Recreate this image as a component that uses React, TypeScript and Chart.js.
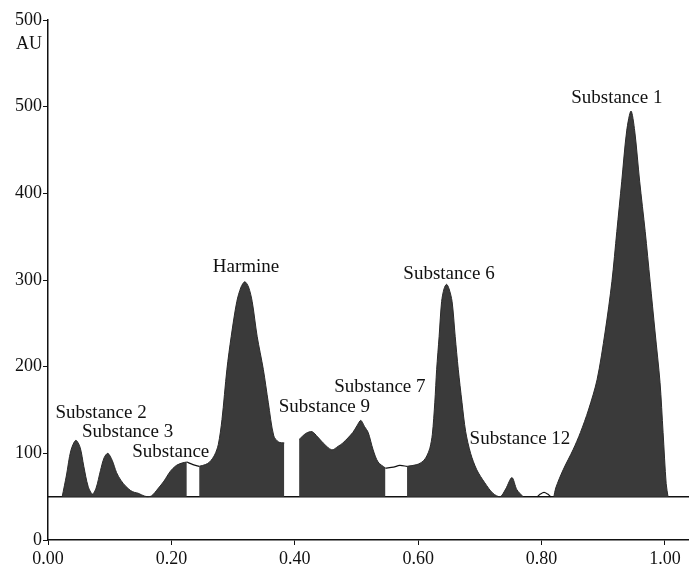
import React, { useEffect, useRef } from "react";
import { Chart, registerables } from "chart.js";

Chart.register(...registerables);

// ---- data (Rf vs AU) ----
const baselineAU = 50;

// peaks 2, 3, 4 (up to white strip)
const seg1: [number, number][] = [
  [0.023, 50], [0.030, 75], [0.037, 103], [0.045, 115], [0.052, 107], [0.058, 85],
  [0.065, 62], [0.072, 53], [0.078, 60], [0.085, 80], [0.091, 95], [0.097, 100],
  [0.104, 92], [0.111, 78], [0.118, 69], [0.126, 62], [0.134, 57], [0.140, 55],
  [0.146, 54], [0.152, 52], [0.160, 50], [0.168, 51], [0.178, 59], [0.188, 68],
  [0.198, 79], [0.208, 86], [0.218, 89], [0.225, 90],
];
// harmine
const seg2: [number, number][] = [
  [0.245, 85], [0.255, 87], [0.262, 90], [0.270, 98], [0.276, 110], [0.282, 139],
  [0.290, 197], [0.297, 235], [0.306, 275], [0.313, 292], [0.319, 298], [0.325, 292],
  [0.331, 275], [0.339, 235], [0.349, 197], [0.357, 159], [0.366, 120], [0.374, 113],
  [0.383, 112],
];
// substances 9, 7
const seg3: [number, number][] = [
  [0.407, 116], [0.418, 123], [0.428, 125], [0.437, 119], [0.446, 112], [0.460, 104],
  [0.470, 108], [0.478, 112], [0.494, 124], [0.501, 132], [0.507, 138], [0.513, 131],
  [0.519, 124], [0.527, 104], [0.535, 90], [0.547, 83],
];
// substance 6, 12
const seg4: [number, number][] = [
  [0.582, 85], [0.598, 87], [0.608, 91], [0.614, 97], [0.619, 106], [0.623, 122],
  [0.627, 159], [0.630, 197], [0.634, 235], [0.638, 275], [0.642, 290], [0.646, 295],
  [0.650, 290], [0.655, 275], [0.660, 235], [0.665, 197], [0.671, 159], [0.677, 125],
  [0.685, 100], [0.695, 81], [0.708, 66], [0.721, 54], [0.733, 50], [0.742, 59],
  [0.752, 72], [0.760, 58], [0.770, 50],
];
// substance 1
const seg5: [number, number][] = [
  [0.820, 50], [0.823, 60], [0.835, 81], [0.851, 104], [0.863, 124], [0.876, 150],
  [0.890, 185], [0.903, 240], [0.914, 298], [0.922, 356], [0.930, 414], [0.938, 472],
  [0.945, 495], [0.951, 472], [0.959, 414], [0.968, 356], [0.976, 298], [0.984, 240],
  [0.992, 182], [0.997, 124], [1.002, 65], [1.005, 50],
];
// outlines over unfilled strips
const strip1: [number, number][] = [[0.225, 90], [0.235, 87], [0.245, 85]];
const strip2: [number, number][] = [[0.547, 83], [0.560, 84], [0.570, 86], [0.582, 85]];
const bump: [number, number][] = [[0.793, 50], [0.798, 53], [0.804, 55], [0.810, 53], [0.815, 50]];

const peakLabels = ["Substance 2", "Substance 3", "Substance", "Harmine", "Substance 9", "Substance 7", "Substance 6", "Substance 12", "Substance 1"];
const labelRf = [0.086, 0.129, 0.199, 0.321, 0.448, 0.538, 0.650, 0.765, 0.922];
const labelAU = [146, 125, 101, 315, 153, 177, 307, 116, 510];

const xTickValues = [0, 0.2, 0.4, 0.6, 0.8, 1.0];
const xTickLabels = ["0.00", "0.20", "0.40", "0.60", "0.80", "1.00"];
const yTickValues = [0, 100, 200, 300, 400, 500, 600];
const yTickLabels = ["0", "100", "200", "300", "400", "500", "500"];
const yUnit = "AU";
const xMax = 1.039;
const yMax = 600;

const toPts = (s: [number, number][]) => s.map(([x, y]) => ({ x, y }));
const gap = (x: number) => ({ x, y: null as any });

export default function App() {
  const ref = useRef<HTMLCanvasElement>(null);
  useEffect(() => {
    if (!ref.current) return;
    const fillData = [
      ...toPts(seg1), gap(0.235),
      ...toPts(seg2), gap(0.395),
      ...toPts(seg3), gap(0.565),
      ...toPts(seg4), gap(0.8),
      ...toPts(seg5),
    ];
    const serif = "'Liberation Serif', 'DejaVu Serif', serif";
    const labelsPlugin = {
      id: "peakLabels",
      afterDatasetsDraw(chart: any) {
        const { ctx, scales } = chart;
        ctx.save();
        ctx.fillStyle = "#111";
        ctx.font = `19px ${serif}`;
        ctx.textAlign = "center";
        ctx.textBaseline = "middle";
        peakLabels.forEach((t, i) => {
          ctx.fillText(t, scales.x.getPixelForValue(labelRf[i]), scales.y.getPixelForValue(labelAU[i]));
        });
        ctx.font = `18px ${serif}`;
        ctx.textAlign = "right";
        ctx.fillText(yUnit, chart.chartArea.left - 6, scales.y.getPixelForValue(572));
        ctx.restore();
      },
    };
    const line = (data: any[], width = 1.2) => ({
      data,
      borderColor: "#111",
      borderWidth: width,
      pointRadius: 0,
      fill: false,
      tension: 0.3,
    });
    const chart = new Chart(ref.current, {
      type: "line",
      data: {
        datasets: [
          {
            data: fillData,
            borderColor: "#2a2a2a",
            borderWidth: 1,
            backgroundColor: "#3a3a3a",
            pointRadius: 0,
            fill: { value: baselineAU },
            spanGaps: false,
            tension: 0.3,
          } as any,
          line(toPts(strip1)),
          line(toPts(strip2)),
          line(toPts(bump)),
          line([{ x: 0, y: baselineAU }, { x: xMax, y: baselineAU }], 1.5),
        ],
      },
      options: {
        animation: false,
        responsive: false,
        devicePixelRatio: 1,
        layout: { padding: { top: 20, right: 0, left: 0, bottom: 0 } },
        plugins: { legend: { display: false }, tooltip: { enabled: false } },
        scales: {
          x: {
            type: "linear",
            min: 0,
            max: xMax,
            afterFit: (s: any) => { s.height = 30; },
            afterBuildTicks: (s: any) => { s.ticks = xTickValues.map((v) => ({ value: v })); },
            ticks: {
              autoSkip: false,
              maxRotation: 0,
              padding: 3,
              color: "#111",
              font: { family: serif, size: 18 },
              callback: (v: any) => {
                const i = xTickValues.findIndex((t) => Math.abs(t - v) < 1e-6);
                return i >= 0 ? xTickLabels[i] : "";
              },
            },
            grid: { drawOnChartArea: false, drawTicks: true, tickLength: 5, color: "#111" },
            border: { display: true, color: "#111", width: 1.5 },
          },
          y: {
            type: "linear",
            min: 0,
            max: yMax,
            afterFit: (s: any) => { s.width = 48; },
            afterBuildTicks: (s: any) => { s.ticks = yTickValues.map((v) => ({ value: v })); },
            ticks: {
              autoSkip: false,
              padding: 1,
              color: "#111",
              font: { family: serif, size: 18 },
              callback: (v: any) => {
                const i = yTickValues.indexOf(Number(v));
                return i >= 0 ? yTickLabels[i] : "";
              },
            },
            grid: { drawOnChartArea: false, drawTicks: true, tickLength: 5, color: "#111" },
            border: { display: true, color: "#111", width: 1.5 },
          },
        },
      },
      plugins: [labelsPlugin],
    });
    return () => chart.destroy();
  }, []);
  return (
    <div style={{ position: "absolute", left: 0, top: 0, width: 689, height: 570, background: "#fff" }}>
      <canvas ref={ref} width={689} height={570} />
    </div>
  );
}
